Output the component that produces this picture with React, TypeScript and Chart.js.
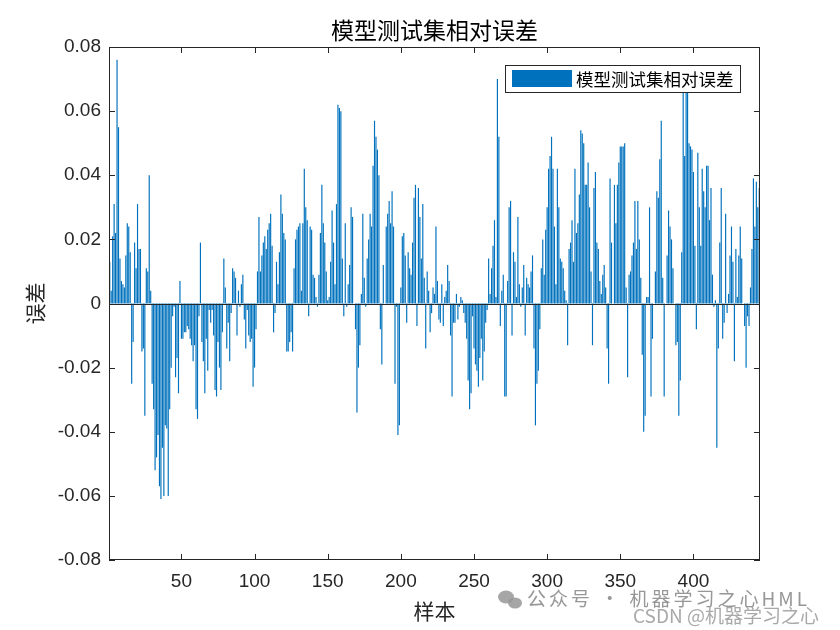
import React, { useEffect, useRef } from 'react';
import { Chart, registerables } from 'chart.js';

Chart.register(...registerables);

// Relative error of the test set, samples 1..445
const errSeg01 = [0.013, 0.004, 0.021, 0.031, 0.022, 0.076, 0.055, 0.014, 0.007, 0.006, 0.005, 0.015, 0.025, 0.024, 0.016, -0.025, -0.012, 0.019, 0.011, 0.031, 0.017, 0.017, -0.015, -0.014, -0.035, 0.011, 0.010, 0.040, 0.004, -0.025, -0.033, -0.052, -0.048, -0.041, -0.057, -0.061, -0.045];
const errSeg02 = [-0.060, -0.038, -0.039, -0.060, -0.033, -0.020, -0.004, -0.001, -0.023, -0.017, -0.028, 0.007, -0.011, -0.011, -0.009, -0.009, -0.007, -0.008, -0.011, -0.013, -0.018, -0.013, -0.033, -0.036, -0.004, 0.019, -0.012, -0.018, -0.028, -0.011, -0.021, -0.002, -0.006, -0.002, -0.010, -0.027, -0.029];
const errSeg03 = [-0.012, -0.020, -0.027, -0.009, 0.014, 0.005, -0.014, -0.006, -0.018, -0.003, 0.011, 0.010, 0.008, -0.010, 0.004, -0.001, 0.006, 0.009, -0.005, -0.014, -0.002, -0.010, -0.012, -0.011, -0.026, -0.020, -0.008, 0.010, 0.027, 0.010, 0.015, 0.019, 0.021, 0.017, 0.023, 0.025, 0.028];
const errSeg04 = [0.018, -0.009, -0.003, 0.013, 0.006, 0.016, 0.034, 0.028, 0.022, 0.020, -0.015, -0.015, -0.012, -0.009, -0.015, 0.011, 0.020, 0.023, 0.024, 0.025, 0.004, 0.025, 0.042, 0.030, 0.026, -0.004, 0.024, 0.023, 0.009, 0.008, 0.002, -0.001, 0.009, 0.022, 0.037, 0.025, 0.019];
const errSeg05 = [0.010, 0.001, 0.002, 0.013, 0.029, 0.019, 0.006, 0.031, 0.062, 0.061, 0.060, 0.014, -0.004, 0.025, -0.001, 0.006, 0.012, 0.030, 0.027, 0.000, -0.008, -0.034, -0.020, -0.013, 0.003, 0.028, 0.008, -0.001, 0.014, 0.020, 0.028, 0.024, 0.043, 0.057, 0.052, 0.048, 0.040];
const errSeg06 = [-0.008, -0.019, 0.012, 0.000, 0.024, 0.028, 0.032, 0.025, 0.035, 0.024, -0.025, -0.001, -0.041, -0.038, 0.005, 0.021, 0.022, 0.015, -0.006, 0.016, 0.011, 0.009, 0.019, 0.033, 0.037, -0.007, 0.036, 0.027, 0.014, 0.031, 0.008, -0.014, 0.010, 0.004, -0.009, -0.003, 0.005];
const errSeg07 = [0.003, 0.024, 0.007, -0.005, -0.006, 0.006, -0.007, 0.002, 0.004, 0.012, 0.007, -0.010, -0.029, -0.006, -0.006, 0.003, -0.005, -0.001, 0.002, 0.001, -0.003, -0.006, -0.011, -0.024, -0.033, -0.028, -0.004, -0.014, -0.019, -0.021, -0.026, -0.017, -0.011, -0.024, -0.015, -0.006, -0.002];
const errSeg08 = [0.014, 0.003, 0.011, 0.018, 0.026, 0.002, 0.070, 0.052, -0.007, 0.004, 0.009, -0.029, -0.029, 0.007, 0.030, 0.032, -0.010, 0.016, 0.013, 0.002, 0.027, 0.006, -0.001, 0.005, 0.012, -0.010, 0.008, 0.006, 0.005, 0.010, 0.015, -0.014, -0.038, -0.025, -0.021, -0.008, 0.011];
const errSeg09 = [0.020, 0.009, 0.023, 0.030, 0.042, 0.046, 0.052, 0.042, 0.024, 0.006, 0.042, 0.030, 0.014, 0.013, 0.011, 0.004, 0.001, -0.013, 0.017, 0.019, 0.026, 0.013, 0.042, 0.022, 0.025, 0.034, 0.054, 0.053, 0.050, 0.037, 0.037, 0.044, 0.030, 0.010, -0.013, 0.036, 0.041];
const errSeg10 = [0.019, 0.017, 0.007, 0.003, 0.009, 0.012, 0.005, -0.014, -0.025, 0.039, 0.019, 0.000, 0.037, 0.025, 0.037, 0.044, 0.049, 0.049, 0.049, 0.050, 0.005, -0.023, 0.009, 0.010, 0.015, 0.019, 0.032, 0.017, 0.032, 0.020, 0.008, -0.016, -0.040, -0.035, 0.002, 0.002, 0.030];
const errSeg11 = [-0.029, -0.011, 0.000, 0.010, 0.035, 0.033, 0.045, 0.057, 0.008, -0.029, 0.000, 0.015, 0.029, 0.024, 0.020, 0.011, 0.000, -0.013, -0.012, -0.035, -0.024, 0.016, 0.067, 0.046, 0.069, 0.066, 0.050, 0.049, 0.048, 0.041, 0.018, -0.008, 0.047, 0.030, 0.018, 0.042, 0.035];
const errSeg12 = [0.030, 0.043, 0.043, 0.026, 0.036, 0.009, -0.001, 0.001, -0.045, -0.014, 0.019, 0.036, -0.011, -0.006, 0.028, -0.003, 0.003, 0.015, 0.024, 0.013, -0.018, 0.017, 0.002, 0.015, 0.024, 0.014, 0.000, -0.007, -0.020, -0.004, -0.007, 0.005, 0.017, 0.039, 0.024, 0.038, 0.030, 0.036];

const relativeErrors = [
  ...errSeg01, ...errSeg02, ...errSeg03, ...errSeg04, ...errSeg05, ...errSeg06,
  ...errSeg07, ...errSeg08, ...errSeg09, ...errSeg10, ...errSeg11, ...errSeg12,
];
const sampleLabels = relativeErrors.map((_, i) => String(i + 1));
const xTickValues = [50, 100, 150, 200, 250, 300, 350, 400];
const yTickValues = [-0.08, -0.06, -0.04, -0.02, 0, 0.02, 0.04, 0.06, 0.08];

const chartTitle = '模型测试集相对误差';
const seriesName = '模型测试集相对误差';
const xAxisTitle = '样本';
const yAxisTitle = '误差';
const watermark1 = '公众号 · 机器学习之心HML';
const watermark2 = 'CSDN @机器学习之心';

const AXIS_COLOR = '#262626';
const BAR_COLOR = '#0072BD';
const CJK = '"Noto Sans CJK SC", sans-serif';
const LATIN = '"Liberation Sans", Arial, sans-serif';

const matlabAxes = {
  id: 'matlabAxes',
  afterDatasetsDraw(chart: any) {
    const { ctx, chartArea: a, scales } = chart;
    const x = scales.x;
    const y = scales.y;
    ctx.save();
    ctx.strokeStyle = AXIS_COLOR;
    ctx.lineWidth = 1;
    // baseline at zero
    const y0 = Math.round(y.getPixelForValue(0)) + 0.5;
    ctx.beginPath();
    ctx.moveTo(a.left, y0);
    ctx.lineTo(a.right, y0);
    ctx.stroke();
    // box
    ctx.strokeRect(Math.round(a.left) + 0.5, Math.round(a.top) + 0.5, Math.round(a.width) - 1, Math.round(a.height) - 1);
    // inward ticks
    const tl = 6;
    ctx.beginPath();
    for (const v of yTickValues) {
      const py = Math.round(y.getPixelForValue(v)) + 0.5;
      ctx.moveTo(a.left, py);
      ctx.lineTo(a.left + tl, py);
      ctx.moveTo(a.right, py);
      ctx.lineTo(a.right - tl, py);
    }
    for (const n of xTickValues) {
      const px = Math.round(x.getPixelForValue(n - 1)) + 0.5;
      ctx.moveTo(px, a.bottom);
      ctx.lineTo(px, a.bottom - tl);
      ctx.moveTo(px, a.top);
      ctx.lineTo(px, a.top + tl);
    }
    ctx.stroke();

    // title centred over the axes
    ctx.fillStyle = '#000000';
    ctx.font = `23px ${CJK}`;
    ctx.textBaseline = 'middle';
    ctx.textAlign = 'center';
    ctx.fillText(chartTitle, (a.left + a.right) / 2, 30);

    // legend box (inside, north-east)
    const lx = 505, ly = 65, lw = 235, lh = 27;
    ctx.fillStyle = '#ffffff';
    ctx.fillRect(lx, ly, lw, lh);
    ctx.strokeStyle = AXIS_COLOR;
    ctx.strokeRect(lx + 0.5, ly + 0.5, lw, lh);
    ctx.fillStyle = BAR_COLOR;
    ctx.fillRect(lx + 7, ly + 5, 60, 17);
    ctx.fillStyle = '#000000';
    ctx.font = `17.5px ${CJK}`;
    ctx.textBaseline = 'middle';
    ctx.textAlign = 'left';
    ctx.fillText(seriesName, lx + 71, ly + lh / 2 + 1);
    ctx.restore();
  },
  afterDraw(chart: any) {
    const { ctx } = chart;
    ctx.save();
    // watermark
    ctx.fillStyle = 'rgba(150,150,150,0.85)';
    ctx.beginPath();
    ctx.ellipse(506, 597, 8, 6.5, 0, 0, Math.PI * 2);
    ctx.fill();
    ctx.beginPath();
    ctx.ellipse(515, 603, 7, 5.5, 0, 0, Math.PI * 2);
    ctx.fill();
    ctx.font = `19px ${CJK}`;
    ctx.textBaseline = 'middle';
    ctx.textAlign = 'left';
    ctx.fillStyle = 'rgba(140,140,140,0.9)';
    try {
      (ctx as any).letterSpacing = '3px';
    } catch (e) {
      // ignore
    }
    ctx.fillText(watermark1, 527, 599);
    try {
      (ctx as any).letterSpacing = '0px';
    } catch (e) {
      // ignore
    }
    ctx.font = `19px ${CJK}`;
    ctx.fillStyle = 'rgba(160,160,160,0.9)';
    ctx.fillText(watermark2, 633, 616);
    ctx.restore();
  },
};

export default function App() {
  const canvasRef = useRef<HTMLCanvasElement | null>(null);

  useEffect(() => {
    const canvas = canvasRef.current;
    if (!canvas) return;
    const chart = new Chart(canvas, {
      type: 'bar',
      data: {
        labels: sampleLabels,
        datasets: [
          {
            label: seriesName,
            data: relativeErrors,
            backgroundColor: BAR_COLOR,
            borderWidth: 0,
            barPercentage: 0.8,
            categoryPercentage: 1.0,
          },
        ],
      },
      options: {
        responsive: false,
        animation: false,
        devicePixelRatio: 1,
        layout: { padding: { left: 0, right: 80, top: 47, bottom: 0 } },
        plugins: {
          legend: { display: false },
          tooltip: { enabled: false },
          title: { display: false },
        },
        scales: {
          x: {
            type: 'category',
            offset: true,
            grid: { display: false, drawTicks: false },
            border: { display: false },
            ticks: {
              autoSkip: false,
              maxRotation: 0,
              minRotation: 0,
              padding: 10,
              color: AXIS_COLOR,
              font: { family: LATIN, size: 19 },
              callback: (_v: any, index: number) => (xTickValues.includes(index + 1) ? String(index + 1) : ''),
            },
            title: {
              display: true,
              text: xAxisTitle,
              color: AXIS_COLOR,
              font: { family: CJK, size: 21 },
              padding: { top: 0, bottom: 6 },
            },
            afterFit: (s: any) => {
              s.height = 70;
            },
          },
          y: {
            type: 'linear',
            min: -0.08,
            max: 0.08,
            grid: { display: false, drawTicks: false },
            border: { display: false },
            ticks: {
              stepSize: 0.02,
              padding: 8,
              color: AXIS_COLOR,
              font: { family: LATIN, size: 19 },
              callback: (v: any) => {
                const n = Number(v);
                if (Math.abs(n) < 1e-9) return '0';
                return n.toFixed(2);
              },
            },
            title: {
              display: true,
              text: yAxisTitle,
              color: AXIS_COLOR,
              font: { family: CJK, size: 21 },
              padding: { top: 22, bottom: 0 },
            },
            afterFit: (s: any) => {
              s.width = 109;
            },
          },
        },
      },
      plugins: [matlabAxes],
    });
    return () => chart.destroy();
  }, []);

  return (
    <div style={{ position: 'fixed', left: 0, top: 0, width: 840, height: 630, background: '#ffffff' }}>
      <canvas ref={canvasRef} width={840} height={630} style={{ width: 840, height: 630 }} />
    </div>
  );
}
